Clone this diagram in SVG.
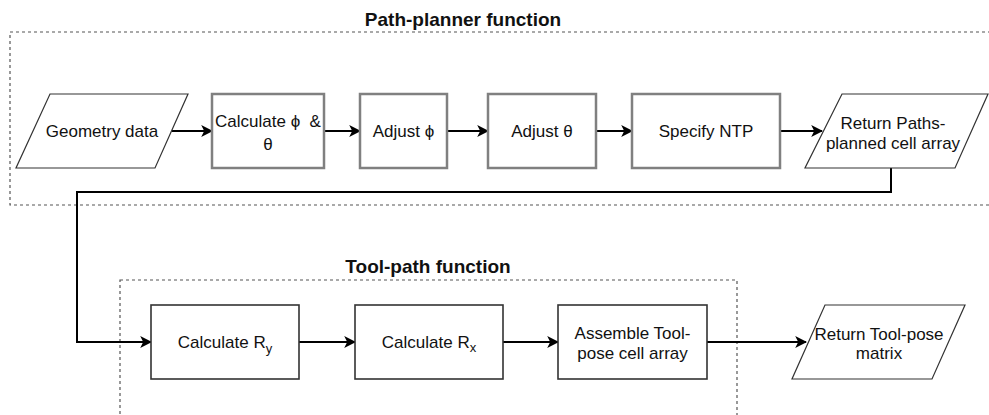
<svg xmlns="http://www.w3.org/2000/svg" width="989" height="415" viewBox="0 0 989 415">
<defs>
<marker id="arr" viewBox="0 0 10 10" refX="9" refY="5" markerWidth="6" markerHeight="6" markerUnits="strokeWidth" orient="auto">
<path d="M0,0 L10,5 L0,10 L2.5,5 Z" fill="#000"/>
</marker>
</defs>
<style>
.grp{fill:none;stroke:#555;stroke-width:1.2;stroke-dasharray:3 3}
.title{font-family:"Liberation Sans",Arial,sans-serif;font-size:19px;font-weight:bold;fill:#111;text-anchor:middle}
.t{font-family:"Liberation Sans",Arial,sans-serif;font-size:17px;fill:#111;text-anchor:middle}
.boxA{fill:#fff;stroke:#808080;stroke-width:2.5}
.boxB{fill:#fff;stroke:#333;stroke-width:1.6}
.para{fill:#fff;stroke:#333;stroke-width:1.2}
.edge{fill:none;stroke:#000;stroke-width:2;marker-end:url(#arr)}
</style>
<rect width="989" height="415" fill="#fff"/>
<g id="path-planner-group">
<rect class="grp" x="10" y="32" width="985" height="173"/>
<text class="title" x="463" y="26">Path-planner function</text>
</g>
<g id="tool-path-group">
<rect class="grp" x="120" y="280" width="617" height="140"/>
<text class="title" x="428" y="273">Tool-path function</text>
</g>
<g id="edges">
<line class="edge" x1="172" y1="131" x2="212" y2="131"/>
<line class="edge" x1="324" y1="131" x2="360" y2="131"/>
<line class="edge" x1="447" y1="131" x2="488" y2="131"/>
<line class="edge" x1="596" y1="131" x2="632" y2="131"/>
<line class="edge" x1="780" y1="131" x2="822" y2="131"/>
<polyline class="edge" points="891,168 891,192 77,192 77,342 151,342"/>
<line class="edge" x1="299" y1="342" x2="355" y2="342"/>
<line class="edge" x1="503" y1="342" x2="558" y2="342"/>
<line class="edge" x1="707" y1="342" x2="806" y2="342"/>
</g>
<g id="geometry-data">
<polygon class="para" points="50,94 188,94 155,168 16,168"/>
<text class="t" x="102" y="137">Geometry data</text>
</g>
<g id="calc-phi-theta">
<rect class="boxA" x="212" y="94" width="112" height="74"/>
<text class="t" x="268" y="127" xml:space="preserve">Calculate ϕ  &amp;</text>
<text class="t" x="268" y="150">θ</text>
</g>
<g id="adjust-phi">
<rect class="boxA" x="360" y="94" width="87" height="74"/>
<text class="t" x="403.5" y="137">Adjust ϕ</text>
</g>
<g id="adjust-theta">
<rect class="boxA" x="488" y="94" width="108" height="74"/>
<text class="t" x="542" y="137">Adjust θ</text>
</g>
<g id="specify-ntp">
<rect class="boxA" x="632" y="94" width="148" height="74"/>
<text class="t" x="706" y="137">Specify NTP</text>
</g>
<g id="return-paths">
<polygon class="para" points="842,94 988,94 955,168 805,168"/>
<text class="t" x="893" y="129">Return Paths-</text>
<text class="t" x="893" y="149">planned cell array</text>
</g>
<g id="calc-ry">
<rect class="boxB" x="151" y="305" width="148" height="74"/>
<text class="t" x="225" y="348">Calculate R<tspan font-size="13" dy="5">y</tspan></text>
</g>
<g id="calc-rx">
<rect class="boxB" x="355" y="305" width="148" height="74"/>
<text class="t" x="429" y="348">Calculate R<tspan font-size="13" dy="4">x</tspan></text>
</g>
<g id="assemble">
<rect class="boxB" x="558" y="305" width="149" height="74"/>
<text class="t" x="632.5" y="339">Assemble Tool-</text>
<text class="t" x="632.5" y="359">pose cell array</text>
</g>
<g id="return-tool-pose">
<polygon class="para" points="825,305 965,305 932,379 792,379"/>
<text class="t" x="879" y="340">Return Tool-pose</text>
<text class="t" x="879" y="359">matrix</text>
</g>
</svg>
